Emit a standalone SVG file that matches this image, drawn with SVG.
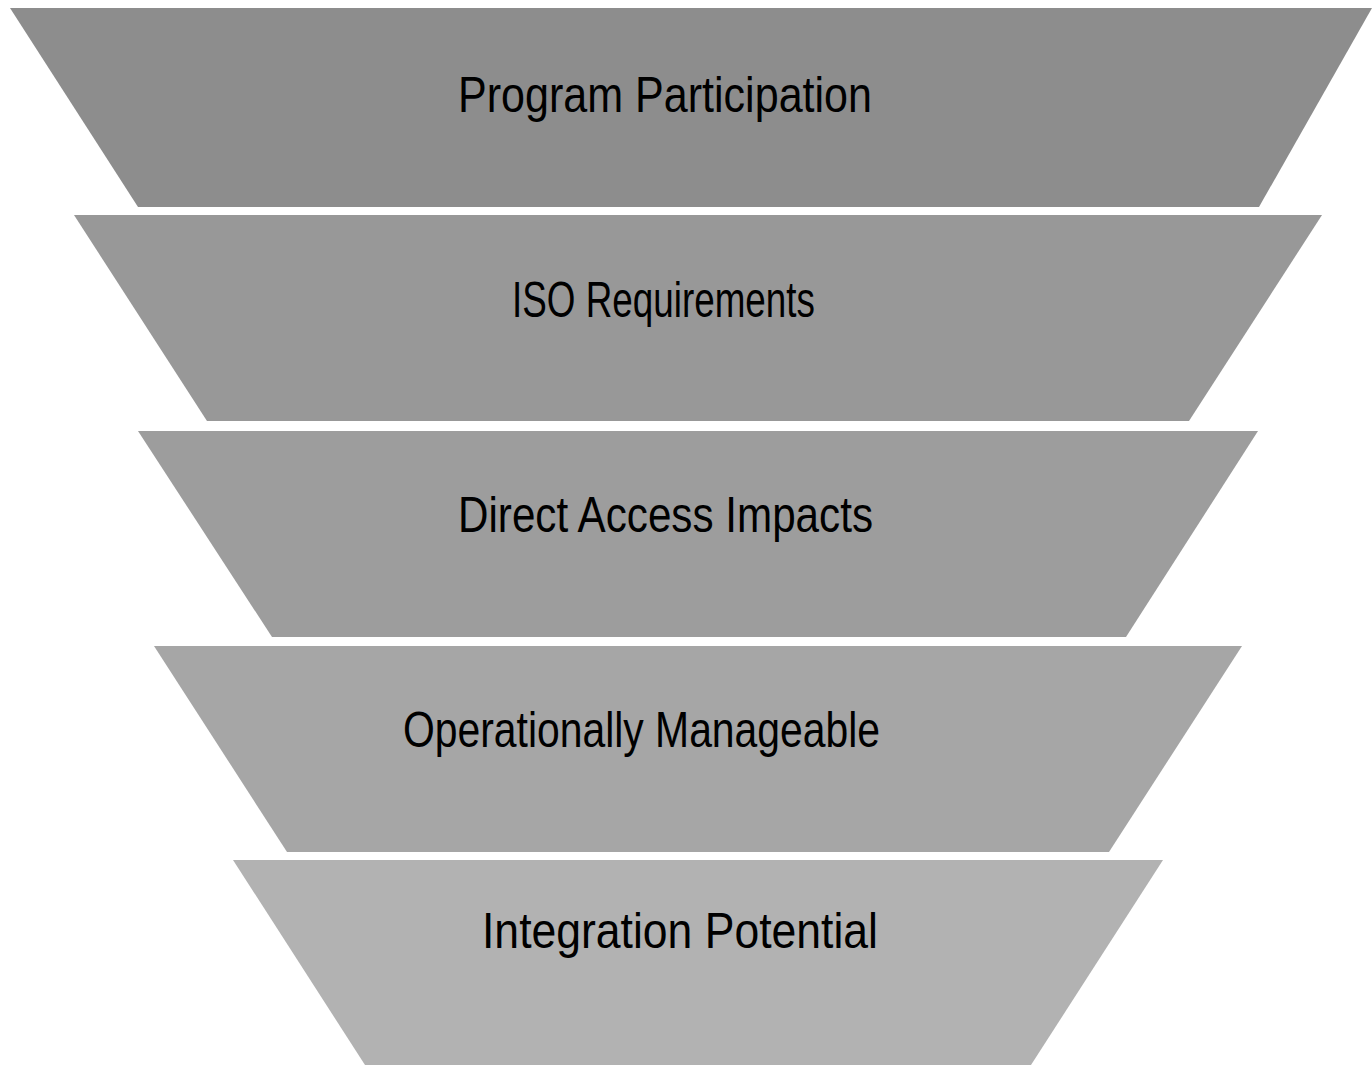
<svg xmlns="http://www.w3.org/2000/svg" width="1372" height="1065" viewBox="0 0 1372 1065">
<style>
.lbl{font-family:"Liberation Sans",Arial,sans-serif;font-size:50px;fill:#000;}
</style>
<rect width="1372" height="1065" fill="#ffffff"/>
<g id="level1">
<polygon points="10,8 1372,8 1259,207 138,207" fill="#8d8d8d"/>
<text class="lbl" x="458" y="112" textLength="414" lengthAdjust="spacingAndGlyphs">Program Participation</text>
</g>
<g id="level2">
<polygon points="74,215 1322,215 1189,421 207,421" fill="#989898"/>
<text class="lbl" x="512" y="317" textLength="303" lengthAdjust="spacingAndGlyphs">ISO Requirements</text>
</g>
<g id="level3">
<polygon points="138,431 1258,431 1126,637 272,637" fill="#9d9d9d"/>
<text class="lbl" x="458" y="532" textLength="415" lengthAdjust="spacingAndGlyphs">Direct Access Impacts</text>
</g>
<g id="level4">
<polygon points="154,646 1242,646 1109,852 287,852" fill="#a6a6a6"/>
<text class="lbl" x="403" y="747" textLength="477" lengthAdjust="spacingAndGlyphs">Operationally Manageable</text>
</g>
<g id="level5">
<polygon points="233,860 1163,860 1031,1065 365,1065" fill="#b2b2b2"/>
<text class="lbl" x="482" y="948" textLength="396" lengthAdjust="spacingAndGlyphs">Integration Potential</text>
</g>
<g id="connectors"></g>
</svg>
